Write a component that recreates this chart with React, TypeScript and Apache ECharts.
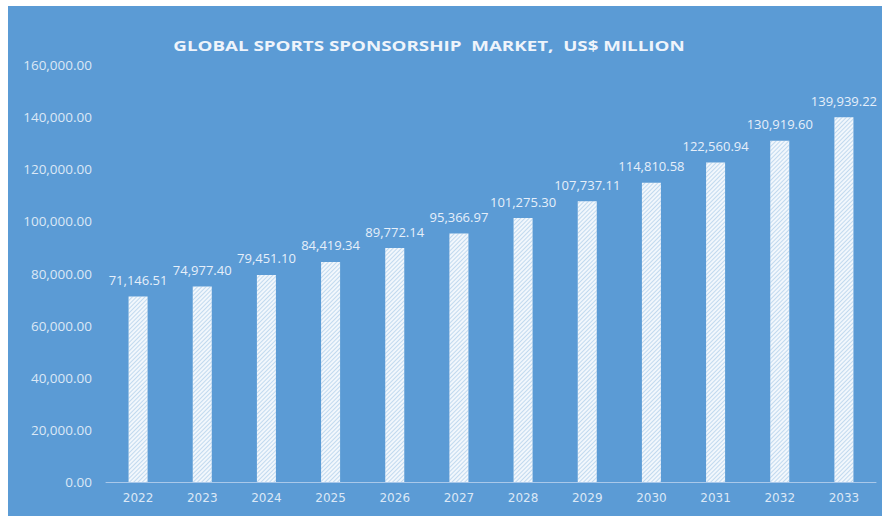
import React, { useEffect, useRef } from "react";
import * as echarts from "echarts";

const categories = ["2022", "2023", "2024", "2025", "2026", "2027", "2028", "2029", "2030", "2031", "2032", "2033"];
const marketValues = [71146.51, 74977.4, 79451.1, 84419.34, 89772.14, 95366.97, 101275.3, 107737.11, 114810.58, 122560.94, 130919.6, 139939.22];
const titleText = "GLOBAL SPORTS SPONSORSHIP  MARKET,  US$ MILLION";

const fmt = (v: number) =>
  v.toLocaleString("en-US", { minimumFractionDigits: 2, maximumFractionDigits: 2 });

export default function App() {
  const ref = useRef<HTMLDivElement>(null);
  useEffect(() => {
    if (!ref.current) return;
    const chart = echarts.init(ref.current, null, { renderer: "svg" });
    chart.setOption({
      animation: false,
      backgroundColor: "#ffffff",
      graphic: [
        {
          type: "rect",
          z: -10,
          silent: true,
          shape: { x: 8, y: 6, width: 874, height: 510 },
          style: { fill: "#5B9BD5" },
        },
        {
          type: "text",
          x: 429,
          y: 46,
          scaleX: 1.34,
          silent: true,
          style: {
            text: titleText,
            fill: "#eef4fb",
            fontFamily: "Open Sans",
            fontWeight: "bold",
            fontSize: 14,
            align: "center",
            verticalAlign: "middle",
          },
        },
      ],
      grid: { left: 106, right: 6, top: 65, bottom: 34, containLabel: false },
      xAxis: {
        type: "category",
        data: categories,
        axisLine: { show: true, lineStyle: { color: "#a9c8ea", width: 1 } },
        axisTick: { show: false },
        axisLabel: {
          color: "#dbe8f6",
          fontFamily: "DejaVu Sans",
          fontSize: 12,
          margin: 10,
        },
      },
      yAxis: {
        type: "value",
        min: 0,
        max: 160000,
        interval: 20000,
        splitLine: { show: false },
        axisLine: { show: false },
        axisTick: { show: false },
        axisLabel: {
          color: "#dbe8f6",
          fontFamily: "Open Sans",
          fontSize: 13.5,
          margin: 14,
          formatter: (v: number) => fmt(v),
        },
      },
      series: [
        {
          type: "bar",
          data: marketValues,
          barWidth: 19,
          itemStyle: {
            color: "#f2f7fc",
            decal: {
              symbol: "rect",
              color: "rgba(91,155,213,0.32)",
              dashArrayX: [1, 0],
              dashArrayY: [1, 1.5],
              rotation: -Math.PI / 4,
              symbolSize: 1,
            },
          },
          label: {
            show: true,
            position: "top",
            distance: 10,
            color: "#e6effa",
            fontFamily: "Open Sans",
            fontSize: 13,
            formatter: (p: any) => fmt(p.value),
          },
        },
      ],
    });
    return () => chart.dispose();
  }, []);
  return (
    <div
      ref={ref}
      style={{ position: "fixed", left: 0, top: 0, width: 882, height: 516 }}
    />
  );
}
